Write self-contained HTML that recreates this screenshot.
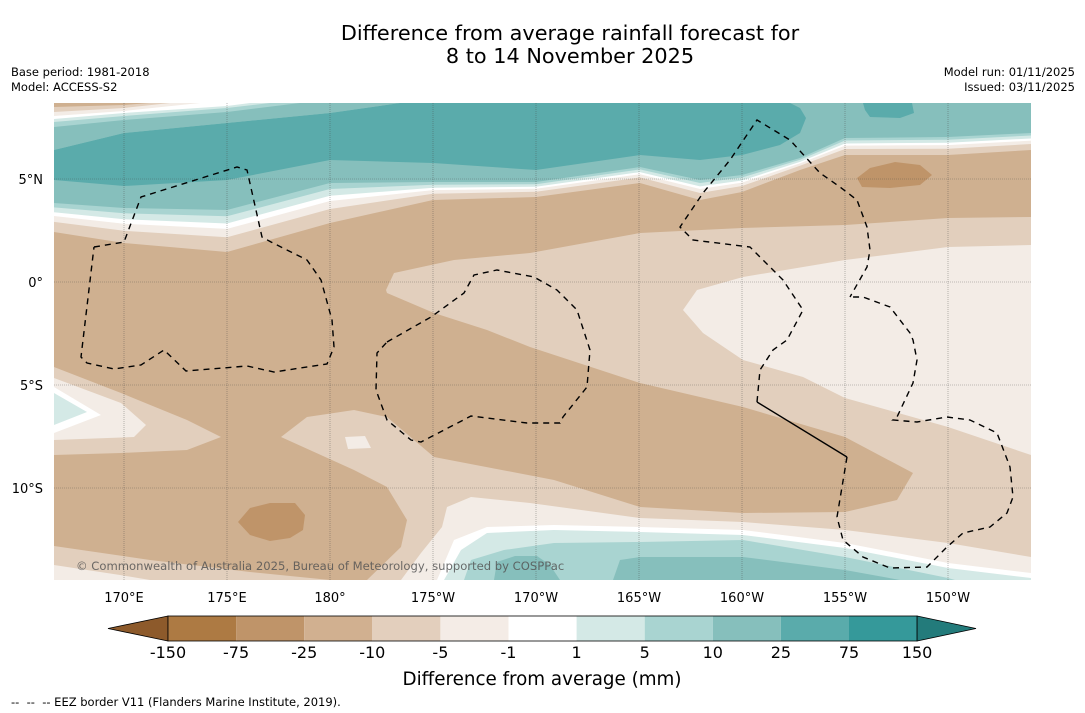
<!DOCTYPE html>
<html><head><meta charset="utf-8">
<style>
html,body{margin:0;padding:0;background:#fff;}
body{width:1085px;height:713px;position:relative;overflow:hidden;font-family:"DejaVu Sans","Liberation Sans",sans-serif;color:#000;}
.t{position:absolute;white-space:nowrap;}
</style></head>
<body>
<div class="t" style="left:0;width:1140px;top:22px;text-align:center;font-size:20.8px;line-height:23px;">Difference from average rainfall forecast for<br>8 to 14 November 2025</div>
<div class="t" style="left:11px;top:65px;font-size:11.5px;line-height:15px;">Base period: 1981-2018<br>Model: ACCESS-S2</div>
<div class="t" style="right:10px;top:65px;font-size:11.5px;line-height:15px;text-align:right;">Model run: 01/11/2025<br>Issued: 03/11/2025</div>

<svg id="map" width="1085" height="713" style="position:absolute;left:0;top:0" xmlns="http://www.w3.org/2000/svg">
<defs><clipPath id="mc"><rect x="54" y="103" width="977" height="477"/></clipPath></defs>
<g id="fills" clip-path="url(#mc)"></g>
<g id="grid" clip-path="url(#mc)"></g>
<g id="eez" clip-path="url(#mc)" fill="none" stroke="#000" stroke-width="1.4" stroke-dasharray="6,5"></g>
<text x="76" y="570" font-size="11.6" fill="#555" fill-opacity="0.85" font-family="DejaVu Sans, sans-serif">© Commonwealth of Australia 2025, Bureau of Meteorology, supported by COSPPac</text>
<g id="axes" font-family="DejaVu Sans, sans-serif" font-size="13"></g>
<g id="cbar"></g>
<text x="542" y="685" text-anchor="middle" font-size="18.3" font-family="DejaVu Sans, sans-serif">Difference from average (mm)</text>
<text x="11" y="706" font-size="11.5" font-family="DejaVu Sans, sans-serif" xml:space="preserve" style="white-space:pre">--  --  -- EEZ border V11 (Flanders Marine Institute, 2019).</text>
</svg>

<script>
// colorbar data
const cbLabels=["-150","-75","-25","-10","-5","-1","1","5","10","25","75","150"];
const cbColors=["#ad7a43","#bf9469","#d1b090","#e3cfbd","#f4ece6","#ffffff","#d4e9e6","#a9d4d1","#86bfbc","#5aabab","#35999a"];
const cbUnder="#8d5a2b";
const cbOver="#237b7b";
// axis tick data
const lonLabels=["170°E","175°E","180°","175°W","170°W","165°W","160°W","155°W","150°W"];
const lonValues=[170,175,180,185,190,195,200,205,210];
const latLabels=["5°N","0°","5°S","10°S"];
const latValues=[5,0,-5,-10];

const NS="http://www.w3.org/2000/svg";
const lonX=v=>124+(v-170)*20.6;
const latY=v=>282-v*20.6;

function poly(parent,pts,fill,name){
  const p=document.createElementNS(NS,'polygon');
  p.setAttribute('points',pts.map(q=>q[0]+','+q[1]).join(' '));
  p.setAttribute('fill',fill);
  
  
  parent.appendChild(p);return p;
}
const F=document.getElementById('fills');
const C={tan2:"#bf9469",tan:"#cfb090",lt:"#e2cfbd",pk:"#f3ece6",w:"#ffffff",t1:"#d4e9e6",t2:"#a9d4d1",t3:"#86bfbc",t4:"#5aabab"};

poly(F,[[54,103],[1031,103],[1031,580],[54,580]],C.tan,'base-dry-region');

poly(F,[[386,290],[394,273],[454,260],[530,253],[640,233],[742,228],[845,225],[948,218],[1031,217],[1031,580],[367,580],[401,547],[407,520],[387,487],[354,470],[281,437],[307,417],[354,410],[387,417],[434,457],[554,480],[640,507],[743,513],[845,512],[897,500],[913,473],[845,437],[743,407],[640,383],[530,347],[487,330],[434,313],[387,293]],C.lt,'central-slightly-dry-region');
poly(F,[[683,310],[697,290],[743,277],[845,260],[948,247],[1031,245],[1031,455],[948,427],[845,398],[803,377],[743,360],[703,333]],C.pk,'east-near-normal-region');
poly(F,[[345,437],[365,436],[371,448],[348,449]],C.pk,'small-near-normal-patch');

poly(F,[[54,367],[121,393],[187,420],[221,437],[187,450],[121,453],[54,455]],C.lt,'west-patch-lt');
poly(F,[[54,378],[121,403],[146,425],[134,437],[54,440]],C.pk,'west-patch-pk');
poly(F,[[54,387],[101,415],[54,433]],C.w,'west-patch-white');
poly(F,[[54,393],[87,412],[54,425]],C.t1,'west-patch-wet');

poly(F,[[238,522],[250,508],[270,503],[295,503],[305,515],[303,530],[290,538],[270,541],[250,535]],C.tan2,'dry-blob-southwest');
poly(F,[[857,178],[870,168],[895,162],[920,165],[932,175],[920,185],[890,188],[862,187]],C.tan2,'dry-blob-northeast');

const X=[54,124,227,330,433,536,640,700,742,800,845,948,1031];
const L10=[203,208,210,183,182,182,167,180,175,158,138,137,133];
const Lm10=[232,243,252,223,200,197,183,200,192,170,155,155,150];
const bands=[[1,C.lt],[0.65,C.pk],[0.45,C.w],[0.32,C.t1],[0.15,C.t2],[0,C.t3]];
bands.forEach((b,i)=>{
  const pts=[[54,103]];
  X.forEach((x,k)=>pts.push([x,L10[k]+b[0]*(Lm10[k]-L10[k])]));
  pts.push([1031,103]);
  poly(F,pts,b[1],'north-band-'+i);
});
poly(F,[[54,180],[124,186],[227,180],[330,160],[433,163],[536,170],[640,155],[700,160],[742,155],[780,145],[800,133],[806,118],[800,108],[790,103],[400,103],[330,113],[227,123],[124,133],[54,150]],C.t4,'north-very-wet-band');
poly(F,[[863,103],[912,103],[914,113],[900,118],[870,117],[865,110]],C.t4,'northeast-wet-blob');
const caps=[[[[54,150],[124,133],[227,123],[330,113],[400,103]],C.t3],
 [[[54,127],[124,120],[227,112],[300,103]],C.t2],
 [[[54,122],[124,116],[227,108],[270,103]],C.t1],
 [[[54,119],[124,113],[227,106],[250,103]],C.w],
 [[[54,116],[124,111],[200,103]],C.pk],
 [[[54,112],[124,108],[170,103]],C.lt],
 [[[54,107],[124,105],[150,103]],C.tan]];
caps.forEach((c,i)=>poly(F,[[54,103]].concat(c[0]),c[1],'north-cap-'+i));

poly(F,[[54,546],[150,560],[250,572],[330,580],[54,580]],C.lt,'southwest-lt');
poly(F,[[54,565],[120,575],[150,580],[54,580]],C.pk,'southwest-pk');
const south=[
 [[[401,580],[421,553],[442,527],[447,507],[471,497],[530,503],[640,518],[743,522],[845,530],[948,543],[1031,557]],C.pk],
 [[[437,580],[454,540],[487,527],[554,525],[640,527],[743,530],[845,543],[948,563],[1031,573]],C.w],
 [[[444,580],[461,550],[487,533],[554,530],[640,532],[743,535],[845,548],[948,568],[1031,578]],C.t1],
 [[[464,580],[471,560],[504,550],[554,543],[640,542],[743,540],[845,557],[948,578],[955,580]],C.t2]];
south.forEach((s,i)=>poly(F,s[0].concat([[1031,580]]),s[1],'south-band-'+i));
poly(F,[[494,580],[497,562],[515,556],[537,556],[550,565],[560,580]],C.t3,'south-wet-1');
poly(F,[[613,580],[620,560],[640,557],[743,557],[845,570],[900,580]],C.t3,'south-wet-2');

const G=document.getElementById('grid');
lonValues.forEach(v=>{const l=document.createElementNS(NS,'line');
 l.setAttribute('x1',lonX(v));l.setAttribute('x2',lonX(v));l.setAttribute('y1',103);l.setAttribute('y2',580);
 l.setAttribute('stroke','#444');l.setAttribute('stroke-opacity','0.6');l.setAttribute('stroke-width','0.6');l.setAttribute('stroke-dasharray','1,1');
 
 
 G.appendChild(l);});
latValues.forEach(v=>{const l=document.createElementNS(NS,'line');
 l.setAttribute('x1',54);l.setAttribute('x2',1031);l.setAttribute('y1',latY(v));l.setAttribute('y2',latY(v));
 l.setAttribute('stroke','#444');l.setAttribute('stroke-opacity','0.6');l.setAttribute('stroke-width','0.6');l.setAttribute('stroke-dasharray','1,1');
 
 
 G.appendChild(l);});

const E=document.getElementById('eez');
const eezLines=[
 [[94,247],[124,242],[141,197],[237,167],[247,170],[262,237],[271,242],[307,260],[321,280],[332,320],[334,347],[327,364],[274,372],[247,366],[186,371],[164,350],[141,365],[114,369],[87,363],[81,357],[94,247]],
 [[387,342],[431,317],[464,293],[474,275],[497,270],[534,277],[557,290],[577,310],[590,350],[587,387],[563,417],[560,423],[527,423],[471,416],[421,442],[411,440],[387,420],[376,390],[377,353],[387,342]],
 [[757,402],[760,370],[773,350],[787,340],[803,310],[783,280],[750,247],[693,240],[680,227],[703,193],[730,160],[757,120],[790,140],[820,173],[840,187],[857,200],[867,227],[870,250],[867,267],[850,297]],
 [[847,457],[837,517],[843,540],[863,557],[890,568],[927,567],[947,547],[963,533],[990,527],[1007,513],[1013,497],[1010,467],[997,433],[970,420],[947,417],[917,422],[893,420],[897,417],[913,383],[917,360],[913,340],[910,333],[890,307],[863,297],[850,297]]];
eezLines.forEach(pts=>{const p=document.createElementNS(NS,'polyline');
 p.setAttribute('points',pts.map(q=>q.join(',')).join(' '));
 
 
 E.appendChild(p);});
const solid=document.createElementNS(NS,'polyline');
solid.setAttribute('points','757,402 847,457');
solid.setAttribute('stroke-dasharray','none');


E.appendChild(solid);

const A=document.getElementById('axes');
lonValues.forEach((v,i)=>{const t=document.createElementNS(NS,'text');
 t.setAttribute('x',lonX(v));t.setAttribute('y',602);t.setAttribute('text-anchor','middle');t.textContent=lonLabels[i];
 
 
 A.appendChild(t);});
latValues.forEach((v,i)=>{const t=document.createElementNS(NS,'text');
 t.setAttribute('x',43);t.setAttribute('y',latY(v)+5);t.setAttribute('text-anchor','end');t.textContent=latLabels[i];
 
 
 A.appendChild(t);});

const CB=document.getElementById('cbar');
const cx0=168,cw=68.1,cy=616,ch=25;
const under=document.createElementNS(NS,'polygon');
under.setAttribute('points',`${cx0},${cy} 108,${cy+ch/2} ${cx0},${cy+ch}`);under.setAttribute('fill',cbUnder);
under.setAttribute('stroke','#000');under.setAttribute('stroke-width','0.8');


CB.appendChild(under);
cbColors.forEach((c,i)=>{const r=document.createElementNS(NS,'rect');
 r.setAttribute('x',cx0+i*cw);r.setAttribute('y',cy);r.setAttribute('width',cw);r.setAttribute('height',ch);r.setAttribute('fill',c);
 
 
 CB.appendChild(r);});
const xEnd=cx0+cbColors.length*cw;
const over=document.createElementNS(NS,'polygon');
over.setAttribute('points',`${xEnd},${cy} 976,${cy+ch/2} ${xEnd},${cy+ch}`);over.setAttribute('fill',cbOver);
over.setAttribute('stroke','#000');over.setAttribute('stroke-width','0.8');


CB.appendChild(over);
const frame=document.createElementNS(NS,'rect');
frame.setAttribute('x',cx0);frame.setAttribute('y',cy);frame.setAttribute('width',xEnd-cx0);frame.setAttribute('height',ch);
frame.setAttribute('fill','none');frame.setAttribute('stroke','#000');frame.setAttribute('stroke-width','0.8');


CB.appendChild(frame);
cbLabels.forEach((s,i)=>{const t=document.createElementNS(NS,'text');
 t.setAttribute('x',cx0+i*cw);t.setAttribute('y',658);t.setAttribute('text-anchor','middle');
 t.setAttribute('font-size','16');t.setAttribute('font-family','DejaVu Sans, sans-serif');t.textContent=s;
 
 
 CB.appendChild(t);});
</script>
</body></html>
